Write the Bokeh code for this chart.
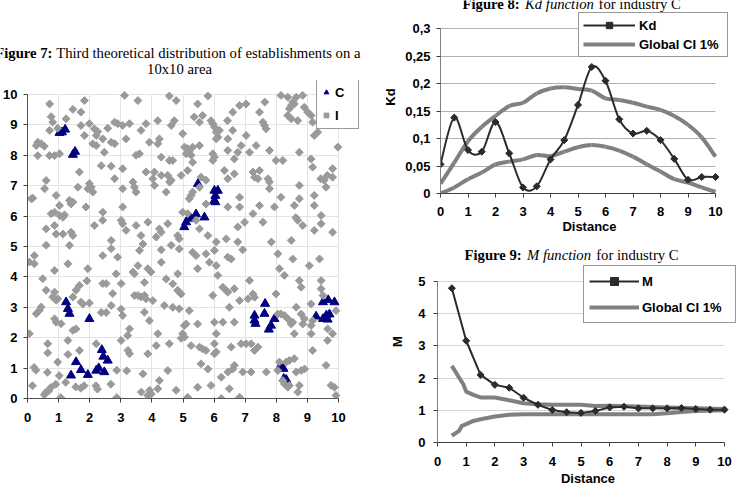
import math
from bokeh.plotting import figure
from bokeh.layouts import row, column
from bokeh.models import Legend, LegendItem, Label, FixedTicker, CustomJSTickFormatter
from bokeh.embed import file_html
from bokeh.resources import INLINE

SANS = "Liberation Sans"
SERIF = "Liberation Serif"

# ---- Figure 7: sites of industry C and of the other establishments (I) ----
c_sites = [
    (1.03, 8.74), (1.11, 8.76), (1.21, 8.85), (1.46, 8.02), (1.53, 8.12),
    (5.48, 7.06), (6.01, 6.84), (6.12, 6.84), (6.04, 6.67), (6.01, 6.51), (6.04, 6.46),
    (5.20, 5.97), (5.26, 5.92), (5.04, 5.64), (5.10, 5.80), (5.42, 6.06), (5.69, 5.96),
    (1.24, 3.17), (1.30, 2.95), (1.35, 2.79), (1.99, 2.62), (1.56, 1.20), (1.40, 0.76),
    (1.72, 0.94), (1.94, 0.78), (2.21, 0.92), (2.29, 1.00), (2.47, 0.87), (2.39, 1.60),
    (2.44, 1.38), (2.58, 1.25),
    (7.30, 2.73), (7.30, 2.57), (7.33, 2.46), (7.64, 3.12), (7.62, 2.79), (7.94, 2.62),
    (7.83, 2.40), (7.76, 2.27), (8.10, 1.01), (8.15, 1.03), (8.23, 0.98), (8.24, 0.65),
    (8.32, 0.62), (9.28, 2.70), (9.50, 3.17), (9.67, 3.24), (9.87, 3.17), (9.50, 2.62),
    (9.61, 2.74), (9.71, 2.77), (9.65, 2.60),
]

i_sites_west = [
    (0.71, 9.69), (1.83, 9.80), (1.46, 9.51), (1.72, 9.42), (3.12, 9.97), (0.76, 9.27),
    (0.81, 9.09), (1.24, 9.20), (0.71, 8.82), (0.97, 8.89), (0.33, 8.43), (0.44, 8.38),
    (0.54, 8.30), (0.28, 8.32), (0.33, 7.99), (0.71, 7.99), (0.87, 7.99), (1.03, 8.05),
    (1.72, 8.98), (1.83, 8.65), (1.99, 9.04), (2.15, 8.87), (2.26, 8.78), (2.21, 8.65),
    (2.42, 8.54), (2.58, 8.89), (2.80, 9.09), (2.90, 9.04), (3.06, 8.98), (3.17, 8.54),
    (2.10, 8.38), (2.21, 8.32), (2.47, 8.10), (2.69, 8.43), (2.80, 8.38), (2.37, 7.66),
    (2.69, 7.64), (3.06, 7.56), (1.67, 7.45), (0.60, 7.17), (0.55, 6.90), (1.62, 6.95),
    (1.99, 7.07), (2.05, 6.95), (1.94, 6.90), (2.10, 6.79), (2.80, 7.23), (3.06, 6.90),
    (0.12, 6.57), (0.17, 6.59), (0.92, 6.68), (1.35, 6.52), (1.40, 6.40), (1.46, 6.46),
    (1.03, 6.35), (1.88, 6.30), (3.06, 6.30), (0.76, 6.08), (0.87, 6.13), (1.04, 6.02),
    (1.14, 5.96), (1.19, 6.04), (2.42, 6.13), (0.60, 5.58), (0.87, 5.69), (2.15, 5.69),
    (2.42, 5.86), (3.01, 5.86), (3.06, 5.75), (0.92, 5.41), (1.14, 5.41), (1.40, 5.47),
    (1.46, 5.36), (2.69, 5.20), (3.17, 5.53), (0.60, 5.04), (1.35, 5.04),
    (0.22, 4.70), (0.06, 4.49), (0.22, 4.43), (1.30, 4.43), (2.69, 4.93), (2.42, 4.70),
    (2.90, 4.65), (1.94, 4.27), (0.87, 4.21), (0.49, 3.94), (0.60, 3.56), (0.87, 3.50),
    (0.81, 3.34), (0.92, 3.23), (0.97, 3.28), (1.67, 3.72), (1.56, 3.56), (1.46, 3.34),
    (1.72, 3.17), (1.78, 3.11), (1.99, 3.14), (2.42, 3.78), (2.53, 3.78), (2.74, 3.45),
    (2.85, 4.10), (3.01, 3.78), (1.91, 3.87), (0.28, 2.79), (0.38, 2.90), (0.44, 3.01),
    (0.87, 2.62), (0.92, 2.51), (1.08, 2.46), (1.46, 2.24), (1.56, 2.29), (1.30, 1.91),
    (2.37, 2.83), (2.53, 2.83), (2.69, 3.06), (3.01, 2.94), (3.06, 2.73), (0.06, 2.13),
    (0.65, 1.80), (0.65, 1.50), (1.30, 1.45), (1.67, 1.58), (2.21, 1.80), (3.01, 1.91),
    (3.28, 2.29), (3.22, 2.07), (0.97, 1.20), (0.21, 1.02), (0.27, 0.93), (0.64, 0.86),
    (1.02, 0.75), (2.87, 0.93), (3.19, 0.91), (0.16, 0.42), (0.54, 0.12), (0.59, 0.20),
    (0.68, 0.25), (0.75, 0.36), (0.91, 0.47), (1.07, 0.03), (1.23, 0.53), (1.55, 0.38),
    (1.71, 0.34), (1.82, 0.42), (2.20, 0.42), (2.25, 0.31), (2.68, 0.47), (2.87, 0.03),
]

i_sites_mid = [
    (3.55, 9.80), (4.56, 9.95), (4.78, 9.80), (5.47, 9.69), (5.80, 9.95), (6.60, 9.42),
    (6.43, 9.14), (4.19, 9.14), (3.81, 9.04), (3.65, 8.82), (4.62, 8.98), (4.72, 9.14),
    (5.36, 9.26), (5.63, 9.31), (5.53, 9.09), (5.90, 9.14), (5.96, 9.04), (6.01, 8.93),
    (6.07, 8.76), (6.17, 8.82), (6.12, 8.60), (3.28, 9.04), (3.92, 8.43), (4.24, 8.54),
    (4.19, 8.38), (4.99, 8.71), (5.05, 8.27), (5.15, 8.22), (5.20, 8.11), (5.26, 8.00),
    (5.10, 8.05), (5.31, 8.27), (5.53, 8.32), (6.07, 8.54), (6.44, 8.54), (3.49, 8.00),
    (3.60, 8.05), (4.30, 7.94), (4.56, 7.83), (4.67, 7.83), (5.31, 7.77), (5.96, 8.05),
    (6.01, 7.94), (5.96, 7.83), (6.44, 8.16), (6.65, 7.88), (3.81, 7.45), (4.08, 7.45),
    (4.03, 7.23), (4.30, 7.34), (4.51, 7.34), (4.57, 7.12), (4.62, 7.18), (4.94, 7.34),
    (5.15, 7.50), (5.58, 7.28), (5.74, 7.18), (6.33, 7.50), (6.44, 7.23), (3.39, 7.12),
    (3.44, 6.95), (3.49, 6.79), (4.08, 7.01), (4.46, 6.79), (5.26, 6.68), (5.20, 6.57),
    (5.31, 6.79), (5.53, 6.95), (5.74, 6.40), (6.44, 6.30), (4.99, 6.13), (5.15, 6.08),
    (5.42, 5.86), (5.53, 5.58), (3.49, 5.69), (3.87, 5.80), (4.51, 5.75), (4.24, 5.58),
    (4.30, 5.47), (4.83, 5.36), (4.88, 5.25), (3.65, 5.36), (3.71, 5.08), (4.14, 5.31),
    (4.62, 5.04), (5.80, 5.36), (6.07, 5.15), (6.39, 5.25),
    (3.60, 4.87), (4.30, 4.89), (4.88, 4.92), (5.31, 4.81), (5.42, 4.70), (5.74, 4.76),
    (6.01, 4.87), (5.85, 4.48), (6.07, 4.37), (6.44, 4.65), (6.55, 4.59), (3.55, 4.37),
    (3.39, 4.16), (3.44, 4.10), (3.87, 4.27), (3.97, 4.16), (4.30, 4.48), (4.83, 4.10),
    (5.47, 4.27), (6.12, 4.05), (3.76, 3.82), (4.46, 3.93), (4.67, 3.77), (4.83, 3.56),
    (4.94, 3.44), (4.88, 3.50), (3.44, 3.39), (3.55, 3.39), (3.65, 3.34), (3.76, 3.39),
    (3.81, 3.28), (4.03, 3.22), (5.96, 3.39), (6.28, 3.66), (6.39, 3.55), (6.44, 3.50),
    (6.65, 3.61), (6.49, 3.00), (4.40, 3.06), (4.67, 3.00), (4.88, 2.95), (5.20, 2.89),
    (3.76, 2.84), (3.92, 2.56), (5.04, 2.40), (5.10, 2.45), (4.99, 2.13), (4.94, 1.98),
    (5.05, 2.02), (5.47, 2.45), (6.01, 2.51), (6.28, 2.51), (6.65, 2.51), (6.07, 2.13),
    (6.55, 1.69), (4.19, 2.13), (4.14, 1.74), (4.56, 1.80), (3.23, 1.58), (3.28, 1.47),
    (3.87, 1.47), (5.26, 1.74), (5.53, 1.69), (5.63, 1.63), (5.74, 1.58), (6.01, 1.80),
    (6.07, 1.53), (6.01, 1.47), (3.71, 0.81), (4.51, 0.92), (5.58, 1.14), (5.80, 0.97),
    (6.44, 0.87), (6.60, 0.97), (6.23, 0.70), (4.24, 0.59), (5.90, 0.43), (5.47, 0.37),
    (6.49, 0.32), (3.66, 0.21), (3.93, 0.27), (3.87, 0.10), (3.98, 0.15), (4.19, 0.32),
    (4.78, 0.27), (5.15, 0.04), (6.23, 0.00),
]

i_sites_east = [
    (6.82, 9.64), (7.03, 9.69), (7.63, 9.75), (8.15, 9.97), (8.37, 9.91), (8.53, 9.75),
    (8.64, 9.91), (8.48, 9.64), (8.42, 9.53), (8.58, 9.69), (8.85, 9.97), (8.90, 9.58),
    (9.01, 9.42), (9.12, 9.31), (8.37, 9.31), (8.48, 9.20), (8.69, 9.14), (7.46, 9.42),
    (7.57, 9.09), (7.62, 8.98), (7.67, 8.87), (9.17, 9.09), (9.33, 8.76), (9.22, 8.65),
    (6.60, 8.82), (7.03, 8.65), (6.87, 8.32), (7.14, 8.10), (6.76, 8.10), (7.35, 8.32),
    (7.78, 8.16), (8.74, 8.10), (9.98, 8.27), (7.99, 7.83), (8.21, 7.83), (9.12, 7.88),
    (9.17, 7.61), (9.81, 7.56), (6.65, 7.39), (7.25, 7.45), (7.46, 7.50), (7.30, 7.28),
    (7.41, 7.23), (7.73, 7.23), (7.78, 7.12), (9.43, 7.23), (9.54, 7.18), (9.64, 7.34),
    (9.81, 7.28), (7.78, 6.90), (8.74, 7.01), (9.60, 6.95), (6.82, 6.62), (8.15, 6.62),
    (8.74, 6.57), (9.22, 6.68), (6.82, 6.30), (7.46, 6.35), (7.94, 6.30), (8.58, 6.35),
    (9.22, 6.35), (7.25, 6.08), (6.98, 5.80), (6.76, 5.64), (7.57, 5.80), (8.63, 5.95),
    (8.69, 5.86), (8.85, 5.69), (9.44, 6.02), (9.44, 5.75), (9.22, 5.53), (9.81, 5.47),
    (6.76, 5.15), (7.84, 5.15), (8.48, 5.20),
    (6.92, 4.89), (8.05, 4.76), (8.53, 4.59), (8.10, 4.27), (8.26, 4.05), (9.06, 4.37),
    (9.39, 4.59), (7.14, 3.88), (8.74, 3.88), (8.80, 3.66), (9.44, 3.88), (9.44, 3.61),
    (9.50, 3.39), (7.25, 3.44), (7.30, 3.33), (7.09, 3.28), (6.82, 3.22), (7.99, 3.44),
    (8.64, 3.00), (9.12, 3.11), (8.05, 2.78), (8.15, 2.78), (8.26, 2.73), (8.37, 2.62),
    (8.53, 2.51), (8.48, 2.45), (8.58, 2.13), (8.80, 2.78), (8.90, 2.62), (8.85, 2.45),
    (9.17, 2.56), (9.12, 2.40), (9.92, 2.89), (9.65, 2.29), (9.81, 2.13), (9.65, 1.91),
    (9.12, 2.13), (6.87, 1.80), (7.03, 1.80), (7.19, 1.80), (7.30, 1.58), (7.41, 1.69),
    (9.17, 1.58), (8.10, 1.20), (8.32, 1.20), (8.42, 1.25), (8.58, 1.31), (6.65, 1.09),
    (6.92, 0.87), (7.19, 0.87), (7.68, 0.87), (8.64, 0.87), (8.80, 0.92), (8.91, 0.97),
    (9.60, 1.09), (8.21, 0.59), (8.26, 0.48), (8.37, 0.37), (8.42, 0.43), (8.74, 0.43),
    (8.69, 0.21), (9.76, 0.43), (9.87, 0.37), (9.92, 0.10), (6.82, 0.04), (8.05, 0.92),
]

# ---- Figure 8: Kd function of industry C with the global 1% envelope ----
kd_dist = [0, 0.5, 1, 1.5, 2, 2.5, 3, 3.5, 4, 4.5, 5, 5.5, 6, 6.5, 7, 7.5, 8, 8.5, 9, 9.5, 10]
kd_vals = [0.053, 0.138, 0.079, 0.076, 0.130, 0.073, 0.011, 0.013, 0.062, 0.097, 0.161,
           0.230, 0.205, 0.135, 0.109, 0.114, 0.097, 0.063, 0.025, 0.030, 0.030]
kd_ci_upper = [0.018, 0.056, 0.095, 0.121, 0.141, 0.159, 0.165, 0.182, 0.191, 0.193, 0.190,
               0.187, 0.173, 0.170, 0.165, 0.158, 0.152, 0.141, 0.125, 0.102, 0.067]
kd_ci_lower = [0.000, 0.011, 0.026, 0.038, 0.053, 0.058, 0.062, 0.070, 0.068, 0.076, 0.084,
               0.088, 0.085, 0.078, 0.067, 0.053, 0.040, 0.026, 0.020, 0.011, 0.003]

# ---- Figure 9: M function of industry C with the global 1% envelope ----
m_dist = [0.5, 1, 1.5, 2, 2.5, 3, 3.5, 4, 4.5, 5, 5.5, 6, 6.5, 7, 7.5, 8, 8.5, 9, 9.5, 10]
m_vals = [4.79, 3.16, 2.10, 1.79, 1.70, 1.39, 1.17, 1.01, 0.94, 0.92, 0.98, 1.09, 1.11,
          1.06, 1.06, 1.06, 1.07, 1.04, 1.02, 1.02]
m_ci_upper_dist = [0.5, 0.75, 0.9, 1, 1.25, 1.5, 2, 2.5, 3, 3.5, 4, 5, 5.5, 6, 7, 8, 9, 10]
m_ci_upper = [2.38, 2.02, 1.81, 1.58, 1.48, 1.40, 1.40, 1.31, 1.22, 1.19, 1.17, 1.17, 1.13,
              1.14, 1.12, 1.09, 1.06, 1.04]
m_ci_lower_dist = [0.5, 0.75, 0.85, 1, 1.25, 1.5, 2, 2.5, 3, 4, 5, 6, 7, 7.5, 8, 8.5, 9, 10]
m_ci_lower = [0.21, 0.36, 0.52, 0.57, 0.67, 0.72, 0.81, 0.86, 0.88, 0.88, 0.88, 0.88, 0.88,
              0.88, 0.91, 0.95, 0.98, 1.00]

unit_ticks = [0, 1, 2, 3, 4, 5, 6, 7, 8, 9, 10]
kd_ticks = [0, 0.05, 0.1, 0.15, 0.2, 0.25, 0.3]
m_ticks = [0, 1, 2, 3, 4, 5]

DARK = "#2b2b2b"
CI_GRAY = "#808080"
SITE_GRAY = "#9a9a9a"
NAVY = "#000080"
TITLE_SIZE = "14.7px"


def free_frame(p):
    # keep each plot's frame where its own borders put it (no cross-plot alignment)
    try:
        p.frame_align = False
    except AttributeError:
        pass


def style_axes(p, grid_color, y_line="#808080", x_line="#404040"):
    for ax in (p.xaxis[0], p.yaxis[0]):
        ax.major_label_text_font = SANS
        ax.major_label_text_font_style = "bold"
        ax.major_label_text_font_size = "13px"
        ax.major_label_text_color = "black"
        ax.axis_label_text_font = SANS
        ax.axis_label_text_font_style = "bold"
        ax.axis_label_text_font_size = "13px"
        ax.axis_label_text_color = "black"
        ax.minor_tick_line_color = None
        ax.major_tick_in = 0
        ax.major_tick_out = 4
        ax.major_tick_line_color = "#404040"
    p.xaxis.axis_line_color = x_line
    p.yaxis.axis_line_color = y_line
    p.xgrid.grid_line_color = None
    p.ygrid.grid_line_color = grid_color
    p.outline_line_color = None
    p.background_fill_color = "white"
    p.border_fill_color = "white"


def limit_to_data_box(p, x_end, y_end):
    # axes and grid lines stop at the last tick, while the frame is wider
    p.xaxis.bounds = (0, x_end)
    p.yaxis.bounds = (0, y_end)
    for g, span in ((p.xgrid, (0, y_end)), (p.ygrid, (0, x_end))):
        for gg in g:
            try:
                gg.cross_bounds = span
            except AttributeError:
                pass


def add_text(p, text, x, y, style, align, frame_left, frame_bottom):
    # x, y are canvas pixels (y downward); converted to frame-relative screen units
    p.add_layout(Label(x=x - frame_left, y=frame_bottom - y, x_units="screen", y_units="screen",
                       text=text, text_font=SERIF, text_font_size=TITLE_SIZE,
                       text_font_style=style, text_align=align,
                       text_baseline="alphabetic", text_color="black"))


def smooth(xs, ys):
    """Cubic Bezier pieces through consecutive points (Catmull-Rom tangents)."""
    n = len(xs)
    seg = dict(x0=[], y0=[], x1=[], y1=[], cx0=[], cy0=[], cx1=[], cy1=[])
    for i in range(n - 1):
        a = max(i - 1, 0)
        d = min(i + 2, n - 1)
        seg["x0"].append(xs[i]); seg["y0"].append(ys[i])
        seg["x1"].append(xs[i + 1]); seg["y1"].append(ys[i + 1])
        seg["cx0"].append(xs[i] + (xs[i + 1] - xs[a]) / 6)
        seg["cy0"].append(ys[i] + (ys[i + 1] - ys[a]) / 6)
        seg["cx1"].append(xs[i + 1] - (xs[d] - xs[i]) / 6)
        seg["cy1"].append(ys[i + 1] - (ys[d] - ys[i]) / 6)
    return seg


def legend_style(leg):
    leg.label_text_font = SANS
    leg.label_text_font_style = "bold"
    leg.label_text_font_size = "13px"
    leg.label_text_color = "black"
    leg.border_line_color = "#333333"
    leg.border_line_width = 1
    leg.background_fill_color = "white"
    leg.background_fill_alpha = 1
    leg.margin = 0


# ---------------- Figure 7 heading strip ----------------
t7 = figure(width=369, height=80, x_range=(0, 369), y_range=(0, 80),
            x_axis_type=None, y_axis_type=None, title=None,
            output_backend="svg", toolbar_location=None,
            min_border_left=0, min_border_right=0, min_border_top=0, min_border_bottom=0)
t7.outline_line_color = None
free_frame(t7)
add_text(t7, "Figure 7:", 52, 52, "bold", "right", 0, 80)
add_text(t7, "Third theoretical distribution of establishments on a", 55.7, 52, "normal", "left", 0, 80)
add_text(t7, "10x10 area", 179, 68, "normal", "center", 0, 80)

# ---------------- Figure 7 ----------------
# frame: 342 x 318 px, the 0..10 square covers 311 x 304 px of it
p1 = figure(width=369, height=412, x_range=(0, 342 / 31.1), y_range=(0, 318 / 30.4),
            output_backend="svg", toolbar_location=None, title=None,
            min_border_left=27, min_border_right=0, min_border_top=0, min_border_bottom=94)
free_frame(p1)
style_axes(p1, "#e4e4e4", y_line="#555555", x_line="#555555")
p1.xgrid.grid_line_color = "#e4e4e4"
p1.xaxis.ticker = FixedTicker(ticks=unit_ticks)
p1.yaxis.ticker = FixedTicker(ticks=unit_ticks)
p1.xaxis.major_label_standoff = 10
p1.yaxis.major_label_standoff = 6
limit_to_data_box(p1, 10, 10)

c_x = [s[0] for s in c_sites]
c_y = [s[1] for s in c_sites]
i_all = i_sites_west + i_sites_mid + i_sites_east
i_x = [s[0] for s in i_all]
i_y = [s[1] for s in i_all]

r_c = p1.scatter(c_x, c_y, marker="triangle", size=9, fill_color=NAVY, line_color=NAVY)
r_i = p1.scatter(i_x, i_y, marker="square", angle=math.pi / 4, size=5.6,
                 fill_color=SITE_GRAY, line_color=SITE_GRAY)

leg1 = Legend(items=[LegendItem(label="C", renderers=[r_c]), LegendItem(label="I", renderers=[r_i])],
              location=(289, 269), padding=3, spacing=3, glyph_width=12, glyph_height=20,
              label_height=20, label_standoff=3)
legend_style(leg1)
p1.add_layout(leg1)

# ---------------- Figure 8 ----------------
# frame: 298 x 193 px, 0..10 covers 275 px and 0..0.3 covers 165 px
p2 = figure(width=369, height=240, x_range=(0, 298 / 27.5), y_range=(0, 0.3 * 193 / 165),
            output_backend="svg", toolbar_location=None, title=None,
            min_border_left=71, min_border_right=0, min_border_top=0, min_border_bottom=47)
free_frame(p2)
style_axes(p2, "#b0b0b0")
p2.xaxis.ticker = FixedTicker(ticks=unit_ticks)
p2.yaxis.ticker = FixedTicker(ticks=kd_ticks)
p2.yaxis.formatter = CustomJSTickFormatter(code="return tick.toString().replace('.', ',');")
p2.xaxis.axis_label = "Distance"
p2.yaxis.axis_label = "Kd"
p2.xaxis.major_label_standoff = 9
p2.xaxis.axis_label_standoff = 0
p2.yaxis.major_label_standoff = 6
p2.yaxis.axis_label_standoff = 4
limit_to_data_box(p2, 10, 0.3)

r_up = p2.bezier(**smooth(kd_dist, kd_ci_upper), line_color=CI_GRAY, line_width=4)
p2.bezier(**smooth(kd_dist, kd_ci_lower), line_color=CI_GRAY, line_width=4)
r_kd = p2.bezier(**smooth(kd_dist, kd_vals), line_color=DARK, line_width=2)
r_kdm = p2.scatter(kd_dist, kd_vals, marker="square", angle=math.pi / 4, size=5,
                   fill_color=DARK, line_color=DARK)

leg2 = Legend(items=[LegendItem(label="Kd", renderers=[r_kd, r_kdm]),
                     LegendItem(label="Global CI 1%", renderers=[r_up])],
              location=(138, 136), padding=4, spacing=3, glyph_width=52, glyph_height=16,
              label_height=16, label_standoff=4, label_width=84)
legend_style(leg2)
p2.add_layout(leg2)

add_text(p2, "Figure 8:", 93, 3, "bold", "left", 71, 193)
add_text(p2, "Kd function", 155.5, 3, "italic", "left", 71, 193)
add_text(p2, "for industry C", 229, 3, "normal", "left", 71, 193)

# ---------------- Figure 9 ----------------
# frame: 301 x 202 px, 0..10 covers 287 px and 0..5 covers 161 px
p3 = figure(width=369, height=252, x_range=(0, 301 / 28.7), y_range=(0, 5 * 202 / 161),
            output_backend="svg", toolbar_location=None, title=None,
            min_border_left=68, min_border_right=0, min_border_top=0, min_border_bottom=50)
free_frame(p3)
style_axes(p3, "#d4d4d4")
p3.xaxis.ticker = FixedTicker(ticks=unit_ticks)
p3.yaxis.ticker = FixedTicker(ticks=m_ticks)
p3.xaxis.axis_label = "Distance"
p3.yaxis.axis_label = "M"
p3.xaxis.major_label_standoff = 10
p3.xaxis.axis_label_standoff = 2
p3.yaxis.major_label_standoff = 8
p3.yaxis.axis_label_standoff = 10
limit_to_data_box(p3, 10, 5)

r_mup = p3.line(m_ci_upper_dist, m_ci_upper, line_color=CI_GRAY, line_width=4, line_join="round")
p3.line(m_ci_lower_dist, m_ci_lower, line_color=CI_GRAY, line_width=4, line_join="round")
r_m = p3.line(m_dist, m_vals, line_color=DARK, line_width=2, line_join="round")
r_mm = p3.scatter(m_dist, m_vals, marker="square", angle=math.pi / 4, size=5,
                  fill_color=DARK, line_color=DARK)

leg3 = Legend(items=[LegendItem(label="M", renderers=[r_m, r_mm]),
                     LegendItem(label="Global CI 1%", renderers=[r_mup])],
              location=(146, 119), padding=5, spacing=6, glyph_width=50, glyph_height=20,
              label_height=20, label_standoff=3, label_width=88)
legend_style(leg3)
p3.add_layout(leg3)

add_text(p3, "Figure 9:", 95, 14, "bold", "left", 68, 202)
add_text(p3, "M function", 157.5, 14, "italic", "left", 68, 202)
add_text(p3, "for industry C", 226.7, 14, "normal", "left", 68, 202)

page = row(column(t7, p1), column(p2, p3))
open("out.html", "w").write(file_html(page, INLINE))
